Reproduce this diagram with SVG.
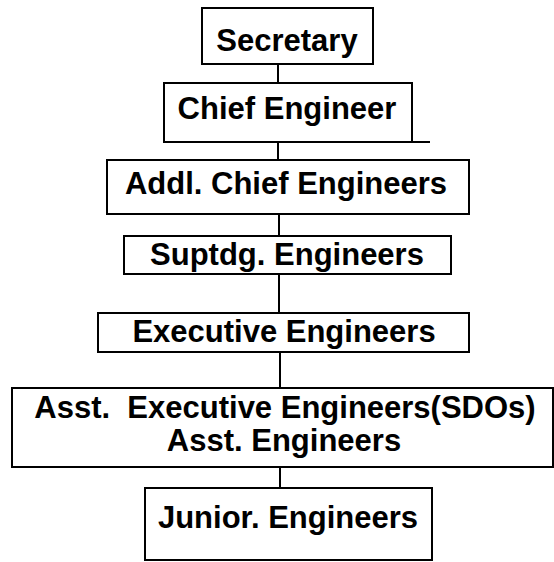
<svg xmlns="http://www.w3.org/2000/svg" width="554" height="562" viewBox="0 0 554 562">
<style>
.box{fill:#fff;stroke:#000;stroke-width:2}
.ln{stroke:#000;stroke-width:2;fill:none}
text{font-family:"Liberation Sans",Arial,sans-serif;font-weight:bold;font-size:31px;fill:#000;text-anchor:middle;white-space:pre}
</style>
<rect width="554" height="562" fill="#fff"/>
<g id="connectors">
<line class="ln" x1="278" y1="64" x2="278" y2="83"/>
<line class="ln" x1="278" y1="142" x2="278" y2="160"/>
<line class="ln" x1="279" y1="214" x2="279" y2="236"/>
<line class="ln" x1="279" y1="274" x2="279" y2="313"/>
<line class="ln" x1="280" y1="352" x2="280" y2="388"/>
<line class="ln" x1="280" y1="467" x2="280" y2="488"/>
</g>
<g id="secretary">
<rect class="box" x="202" y="8" width="171" height="56"/>
<text x="287" y="51">Secretary</text>
</g>
<g id="chief-engineer">
<rect class="box" x="164" y="83" width="248" height="59"/>
<line class="ln" x1="412" y1="142" x2="430" y2="142"/>
<text x="287" y="119">Chief Engineer</text>
</g>
<g id="addl-chief-engineers">
<rect class="box" x="107" y="160" width="362" height="54"/>
<text x="286" y="194">Addl. Chief Engineers</text>
</g>
<g id="suptdg-engineers">
<rect class="box" x="124" y="236" width="327" height="38"/>
<text x="287" y="265">Suptdg. Engineers</text>
</g>
<g id="executive-engineers">
<rect class="box" x="98" y="313" width="371" height="39"/>
<text x="284" y="342">Executive Engineers</text>
</g>
<g id="asst-engineers">
<rect class="box" x="12" y="388" width="541" height="79"/>
<text x="285" y="418">Asst.  Executive Engineers(SDOs)</text>
<text x="284" y="451">Asst. Engineers</text>
</g>
<g id="junior-engineers">
<rect class="box" x="145" y="488" width="287" height="72"/>
<text x="288" y="528">Junior. Engineers</text>
</g>
</svg>
